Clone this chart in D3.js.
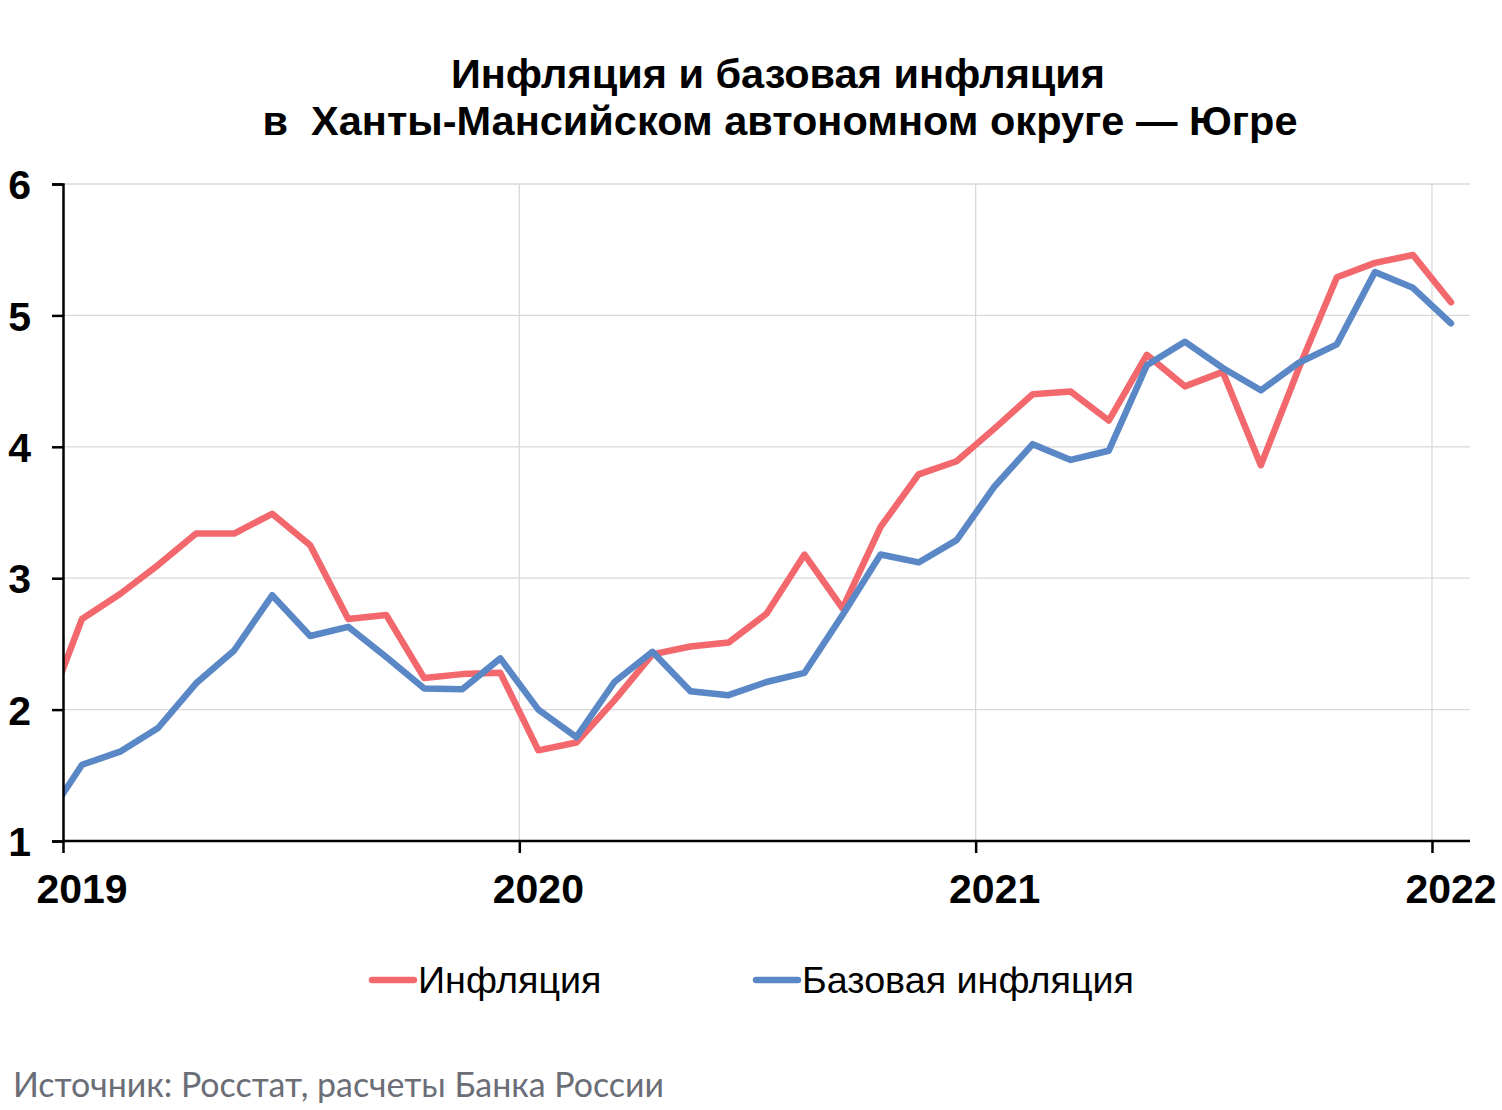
<!DOCTYPE html>
<html><head><meta charset="utf-8">
<script src="https://cdn.jsdelivr.net/npm/d3@7"></script>
<style>body{margin:0;background:#fff}svg{display:block}</style>
</head><body>
<svg id="c" width="1502" height="1110"></svg>
<script>
// Months from Dec 2018 to Jan 2022 (month index relative to Jan 2019)
const months = d3.range(-1, 37);
const inflation = [1.93,
 2.69,2.88,3.10,3.34,3.34,3.49,3.25,2.69,2.72,2.24,2.27,2.28,
 1.69,1.75,2.07,2.42,2.48,2.51,2.73,3.18,2.77,3.39,3.79,3.89,
 4.14,4.40,4.42,4.20,4.70,4.46,4.57,3.86,4.60,5.29,5.40,5.46,
 5.10];
const coreInflation = [1.14,
 1.58,1.68,1.86,2.20,2.45,2.87,2.56,2.63,2.40,2.16,2.155,2.39,
 2.00,1.79,2.21,2.44,2.14,2.11,2.21,2.28,2.72,3.18,3.12,3.29,
 3.70,4.02,3.90,3.97,4.62,4.80,4.60,4.43,4.64,4.78,5.33,5.21,
 4.94];
const years = ["2019","2020","2021","2022"];
const yTicks = [1,2,3,4,5,6];
const seriesNames = ["Инфляция","Базовая инфляция"];
const colors = ["#f2686c","#5a87c6"];

const svg = d3.select("#c");
const L = 63, R = 1470, T = 184, B = 841;
const x = d3.scaleLinear().domain([0, 37]).range([L, R]);
const y = d3.scaleLinear().domain([1, 6]).range([B, T]);

// Title
svg.append("text").attr("x", 778).attr("y", 88).attr("text-anchor","middle")
  .attr("font-family","Liberation Sans, Arial, sans-serif").attr("font-weight","bold")
  .attr("font-size", 41.5).text("Инфляция и базовая инфляция");
svg.append("text").attr("x", 780).attr("y", 135).attr("text-anchor","middle")
  .attr("font-family","Liberation Sans, Arial, sans-serif").attr("font-weight","bold")
  .attr("font-size", 41.5).attr("xml:space","preserve").text("в  Ханты-Мансийском автономном округе — Югре");

// gridlines
svg.append("g").selectAll("line").data(yTicks.filter(d=>d>1)).join("line")
  .attr("x1", L).attr("x2", R).attr("y1", d=>y(d)).attr("y2", d=>y(d))
  .attr("stroke","#d9d9d9").attr("stroke-width",1.3);
svg.append("g").selectAll("line").data(years.slice(1)).join("line")
  .attr("x1", (d,i)=>x((i+1)*12)).attr("x2", (d,i)=>x((i+1)*12))
  .attr("y1", T).attr("y2", B).attr("stroke","#d9d9d9").attr("stroke-width",1.3);

// lines
svg.append("defs").append("clipPath").attr("id","clip")
  .append("rect").attr("x", L).attr("y", 0).attr("width", R - L + 10).attr("height", 1110);
const line = d3.line().x((d,i)=>x(months[i] + 0.5)).y(d=>y(d));
const g = svg.append("g").attr("clip-path","url(#clip)");
g.append("path").datum(inflation).attr("d", line).attr("fill","none")
  .attr("stroke", colors[0]).attr("stroke-width", 6.5).attr("stroke-linejoin","round").attr("stroke-linecap","round");
g.append("path").datum(coreInflation).attr("d", line).attr("fill","none")
  .attr("stroke", colors[1]).attr("stroke-width", 6.5).attr("stroke-linejoin","round").attr("stroke-linecap","round");

// axes
const yAxis = d3.axisLeft(y).tickValues(yTicks).tickSize(11).tickFormat(d3.format("d"));
const ya = svg.append("g").attr("transform",`translate(${L},0)`).call(yAxis);
ya.select(".domain").attr("stroke","#000").attr("stroke-width",2.5);
ya.selectAll(".tick line").attr("stroke","#000").attr("stroke-width",2.5);
ya.selectAll(".tick text").attr("x", -32).attr("dy","0.36em").attr("font-size",41)
  .attr("font-weight","bold").attr("font-family","Liberation Sans, Arial, sans-serif").attr("fill","#000");

const xAxis = d3.axisBottom(x).tickValues([0,12,24,36]).tickSize(12).tickFormat("");
const xa = svg.append("g").attr("transform",`translate(0,${B})`).call(xAxis);
xa.select(".domain").attr("stroke","#000").attr("stroke-width",2.5).attr("d",`M${L},0H${R}`);
xa.selectAll(".tick line").attr("stroke","#000").attr("stroke-width",2.5);
svg.append("g").selectAll("text").data(years).join("text")
  .attr("x", (d,i)=>x(i*12 + 0.5)).attr("y", 903).attr("text-anchor","middle")
  .attr("font-size",41).attr("font-weight","bold").attr("font-family","Liberation Sans, Arial, sans-serif")
  .text(d=>d);

// legend
const legX = [372, 756];
const lg = svg.append("g");
seriesNames.forEach((n,i)=>{
  lg.append("line").attr("x1", legX[i]).attr("x2", legX[i]+42).attr("y1", 980).attr("y2", 980)
    .attr("stroke", colors[i]).attr("stroke-width", 6.5).attr("stroke-linecap","round");
  lg.append("text").attr("x", legX[i]+46).attr("y", 993)
    .attr("font-family","Liberation Sans Narrow, Arial Narrow, sans-serif").attr("font-stretch","condensed")
    .attr("font-size", 37.7).attr("fill","#000").text(n);
});

// source
svg.append("text").attr("x", 13).attr("y", 1097)
  .attr("font-family","Lato, Calibri, sans-serif").attr("font-size", 33.9).attr("fill","#6b6e76")
  .text("Источник: Росстат, расчеты Банка России");
</script>
</body></html>
